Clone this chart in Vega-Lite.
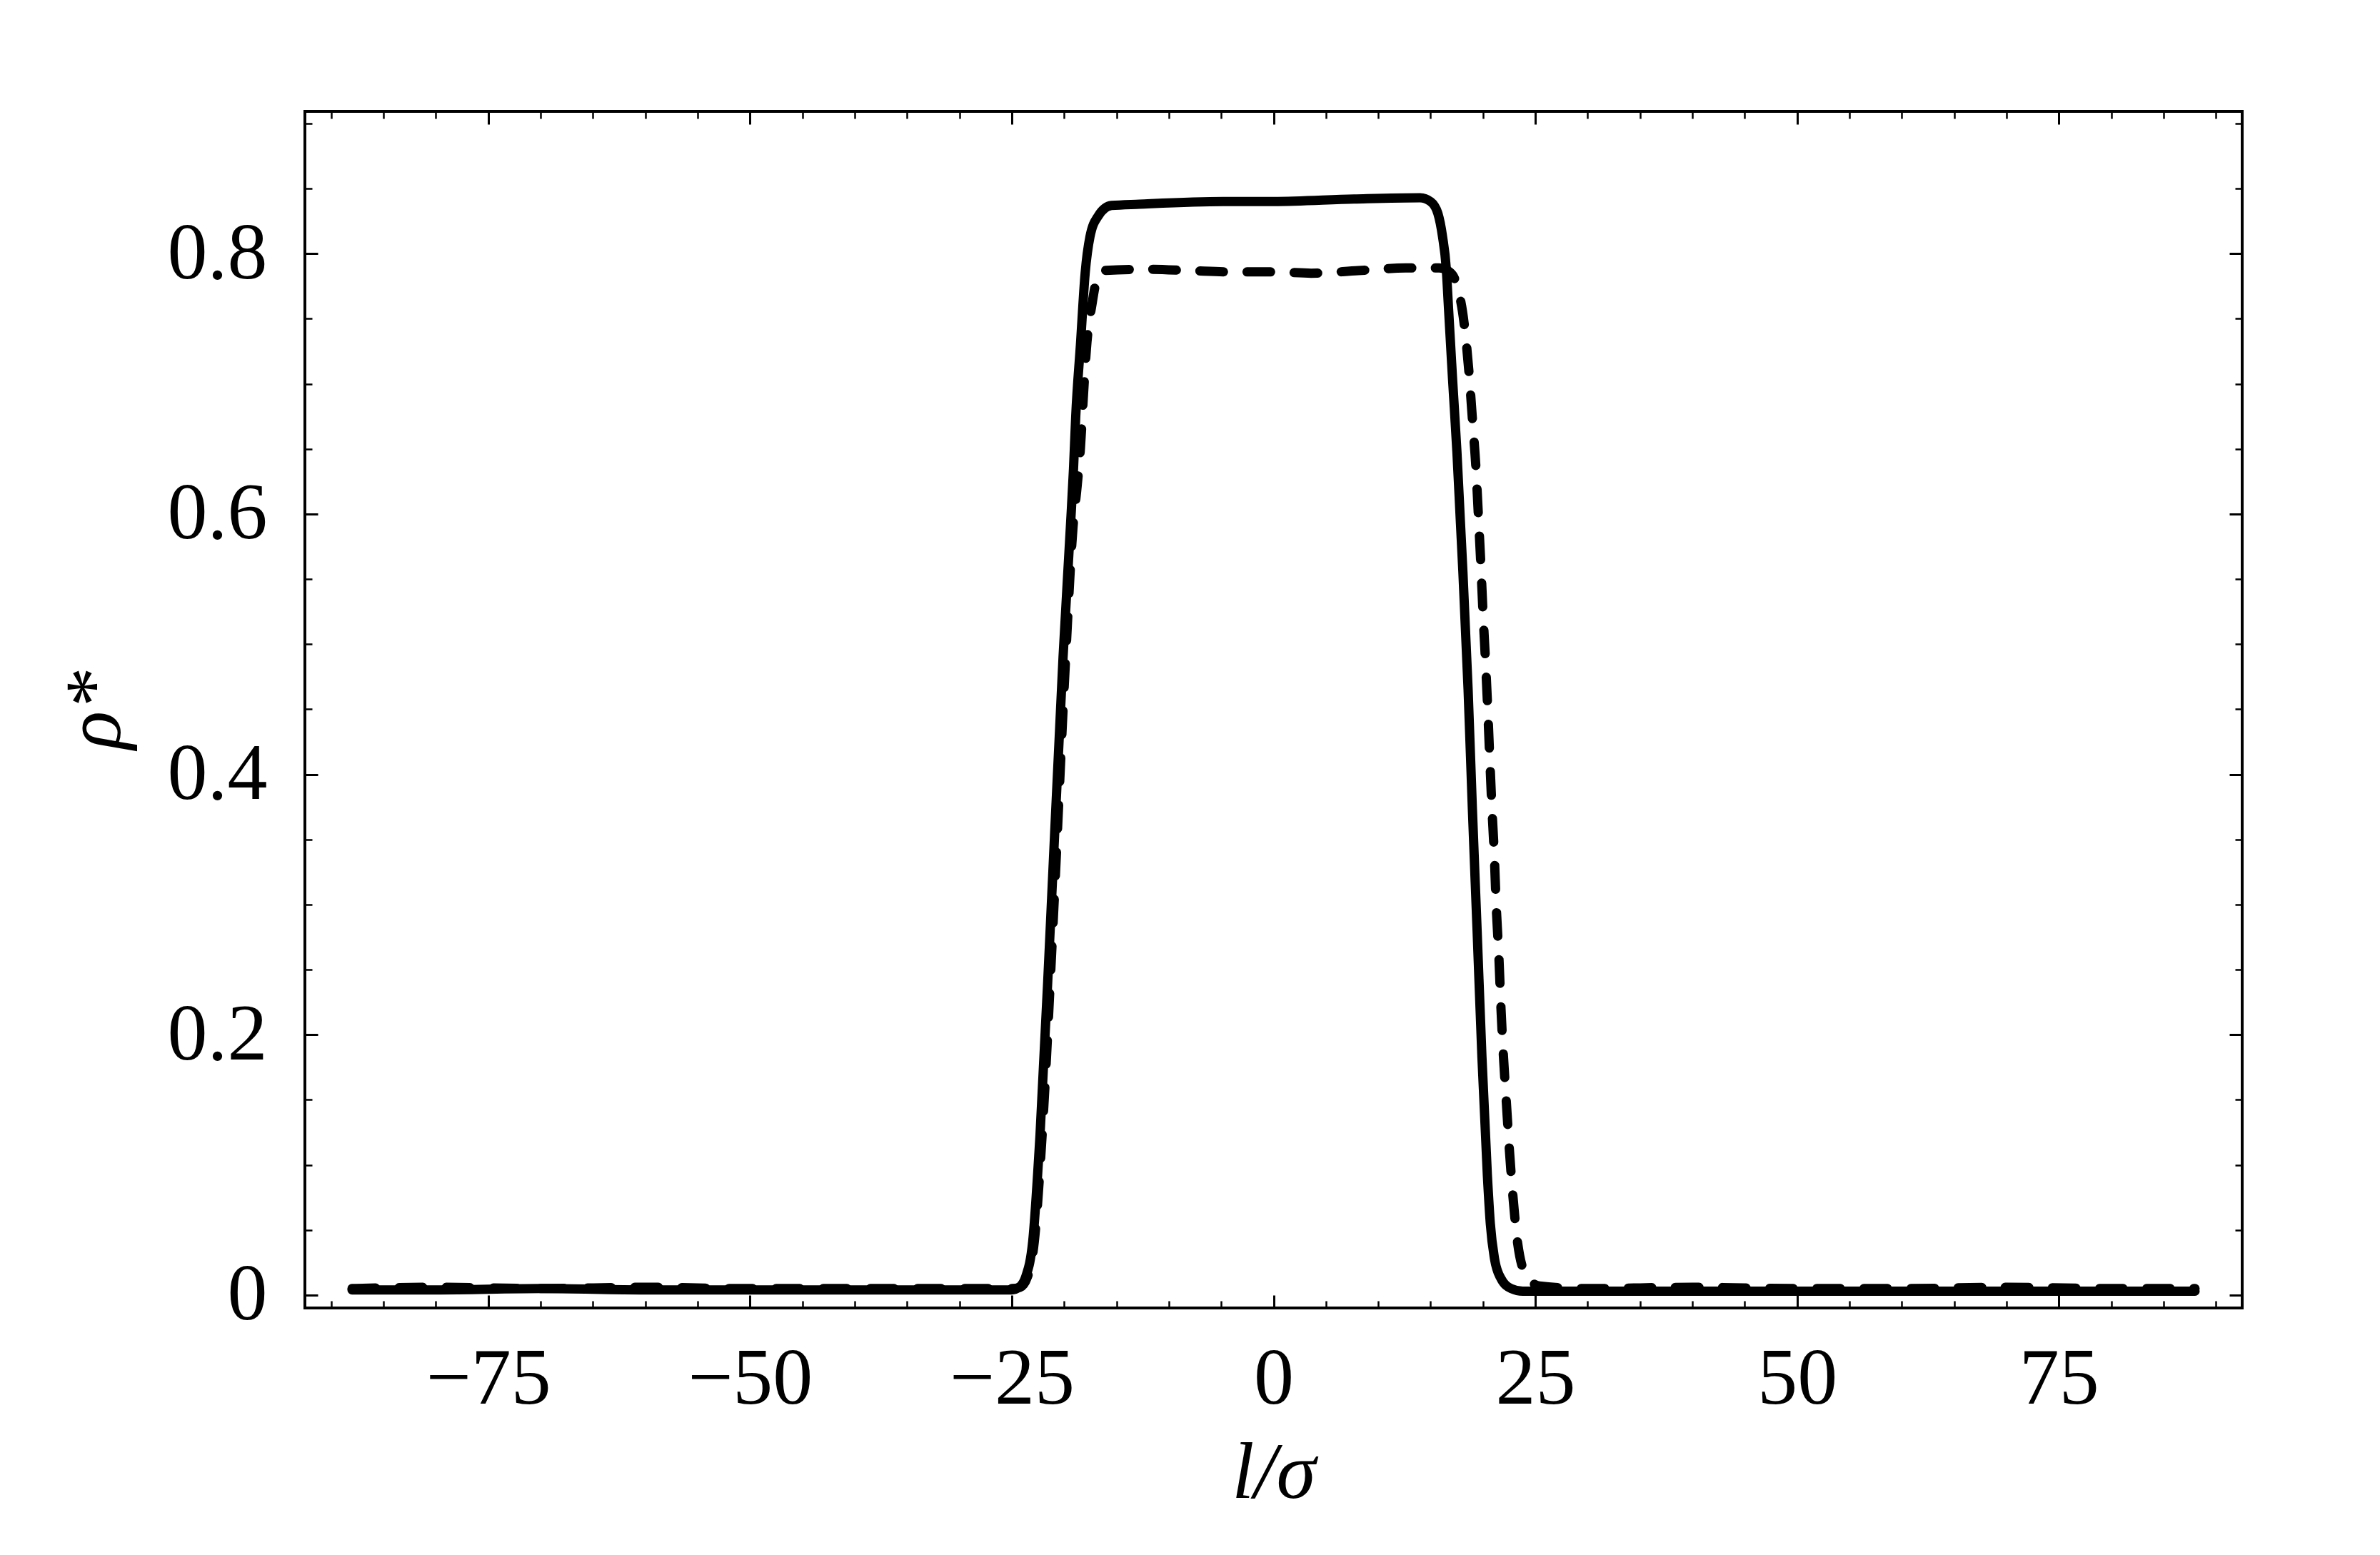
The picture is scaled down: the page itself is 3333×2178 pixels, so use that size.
{
  "$schema": "https://vega.github.io/schema/vega-lite/v6.json",
  "width": 2713,
  "height": 1676,
  "autosize": {"type": "none"},
  "padding": {"left": 427, "top": 156, "right": 193, "bottom": 346},
  "background": "white",
  "config": {
    "view": {"stroke": "black", "strokeWidth": 4},
    "axis": {
      "domain": false,
      "grid": false,
      "labelFont": "Liberation Serif",
      "titleFont": "Liberation Serif",
      "labelFontSize": 112,
      "titleFontSize": 112,
      "titleFontWeight": "normal",
      "labelColor": "black",
      "titleColor": "black",
      "tickColor": "black"
    }
  },
  "data": {
    "values": [
      {"s": "solid", "l": -88, "rho": 0.004},
      {"s": "solid", "l": -80, "rho": 0.004},
      {"s": "solid", "l": -70, "rho": 0.005},
      {"s": "solid", "l": -60, "rho": 0.004},
      {"s": "solid", "l": -50, "rho": 0.004},
      {"s": "solid", "l": -40, "rho": 0.004},
      {"s": "solid", "l": -30, "rho": 0.004},
      {"s": "solid", "l": -25, "rho": 0.004},
      {"s": "solid", "l": -24.3, "rho": 0.006},
      {"s": "solid", "l": -23.67, "rho": 0.014},
      {"s": "solid", "l": -23.0, "rho": 0.041},
      {"s": "solid", "l": -22.3, "rho": 0.123},
      {"s": "solid", "l": -21.3, "rho": 0.286},
      {"s": "solid", "l": -20.1, "rho": 0.49},
      {"s": "solid", "l": -19.4, "rho": 0.59},
      {"s": "solid", "l": -19.1, "rho": 0.635},
      {"s": "solid", "l": -18.89, "rho": 0.675},
      {"s": "solid", "l": -18.44, "rho": 0.73},
      {"s": "solid", "l": -17.99, "rho": 0.785},
      {"s": "solid", "l": -17.53, "rho": 0.813},
      {"s": "solid", "l": -16.74, "rho": 0.829},
      {"s": "solid", "l": -15.48, "rho": 0.837},
      {"s": "solid", "l": -12.8, "rho": 0.838},
      {"s": "solid", "l": -4.8, "rho": 0.84},
      {"s": "solid", "l": 0, "rho": 0.84},
      {"s": "solid", "l": 7.7, "rho": 0.842},
      {"s": "solid", "l": 14, "rho": 0.843},
      {"s": "solid", "l": 15.0, "rho": 0.84},
      {"s": "solid", "l": 15.69, "rho": 0.831},
      {"s": "solid", "l": 16.14, "rho": 0.813},
      {"s": "solid", "l": 16.49, "rho": 0.789},
      {"s": "solid", "l": 16.71, "rho": 0.758},
      {"s": "solid", "l": 17.1, "rho": 0.703},
      {"s": "solid", "l": 17.51, "rho": 0.648},
      {"s": "solid", "l": 17.85, "rho": 0.593},
      {"s": "solid", "l": 18.08, "rho": 0.556},
      {"s": "solid", "l": 18.58, "rho": 0.465},
      {"s": "solid", "l": 18.99, "rho": 0.373},
      {"s": "solid", "l": 19.44, "rho": 0.28},
      {"s": "solid", "l": 19.9, "rho": 0.183},
      {"s": "solid", "l": 20.42, "rho": 0.092},
      {"s": "solid", "l": 20.7, "rho": 0.055},
      {"s": "solid", "l": 21.1, "rho": 0.028},
      {"s": "solid", "l": 21.7, "rho": 0.013},
      {"s": "solid", "l": 22.7, "rho": 0.005},
      {"s": "solid", "l": 23.8, "rho": 0.003},
      {"s": "solid", "l": 30, "rho": 0.003},
      {"s": "solid", "l": 40, "rho": 0.003},
      {"s": "solid", "l": 50, "rho": 0.003},
      {"s": "solid", "l": 60, "rho": 0.003},
      {"s": "solid", "l": 70, "rho": 0.003},
      {"s": "solid", "l": 80, "rho": 0.003},
      {"s": "solid", "l": 88, "rho": 0.003},

      {"s": "dashed", "l": -88, "rho": 0.005},
      {"s": "dashed", "l": -80, "rho": 0.006},
      {"s": "dashed", "l": -70, "rho": 0.005},
      {"s": "dashed", "l": -60, "rho": 0.006},
      {"s": "dashed", "l": -50, "rho": 0.005},
      {"s": "dashed", "l": -40, "rho": 0.005},
      {"s": "dashed", "l": -30, "rho": 0.005},
      {"s": "dashed", "l": -25, "rho": 0.005},
      {"s": "dashed", "l": -24.2, "rho": 0.006},
      {"s": "dashed", "l": -23.5, "rho": 0.014},
      {"s": "dashed", "l": -22.85, "rho": 0.041},
      {"s": "dashed", "l": -22.1, "rho": 0.123},
      {"s": "dashed", "l": -21.05, "rho": 0.286},
      {"s": "dashed", "l": -19.85, "rho": 0.49},
      {"s": "dashed", "l": -19.15, "rho": 0.59},
      {"s": "dashed", "l": -18.75, "rho": 0.622},
      {"s": "dashed", "l": -18.44, "rho": 0.651},
      {"s": "dashed", "l": -18.17, "rho": 0.689},
      {"s": "dashed", "l": -17.87, "rho": 0.727},
      {"s": "dashed", "l": -17.3, "rho": 0.763},
      {"s": "dashed", "l": -16.9, "rho": 0.78},
      {"s": "dashed", "l": -16.4, "rho": 0.787},
      {"s": "dashed", "l": -12, "rho": 0.788},
      {"s": "dashed", "l": -8, "rho": 0.787},
      {"s": "dashed", "l": -4, "rho": 0.786},
      {"s": "dashed", "l": 0, "rho": 0.786},
      {"s": "dashed", "l": 3.6, "rho": 0.785},
      {"s": "dashed", "l": 8.1, "rho": 0.787},
      {"s": "dashed", "l": 12.6, "rho": 0.789},
      {"s": "dashed", "l": 15.8, "rho": 0.789},
      {"s": "dashed", "l": 16.8, "rho": 0.786},
      {"s": "dashed", "l": 17.5, "rho": 0.776},
      {"s": "dashed", "l": 18.19, "rho": 0.747},
      {"s": "dashed", "l": 18.65, "rho": 0.71},
      {"s": "dashed", "l": 18.99, "rho": 0.673},
      {"s": "dashed", "l": 19.33, "rho": 0.635},
      {"s": "dashed", "l": 19.56, "rho": 0.599},
      {"s": "dashed", "l": 19.78, "rho": 0.564},
      {"s": "dashed", "l": 20.01, "rho": 0.523},
      {"s": "dashed", "l": 20.24, "rho": 0.487},
      {"s": "dashed", "l": 20.46, "rho": 0.449},
      {"s": "dashed", "l": 20.65, "rho": 0.412},
      {"s": "dashed", "l": 20.85, "rho": 0.375},
      {"s": "dashed", "l": 21.08, "rho": 0.338},
      {"s": "dashed", "l": 21.26, "rho": 0.3},
      {"s": "dashed", "l": 21.54, "rho": 0.256},
      {"s": "dashed", "l": 21.72, "rho": 0.22},
      {"s": "dashed", "l": 21.95, "rho": 0.184},
      {"s": "dashed", "l": 22.24, "rho": 0.147},
      {"s": "dashed", "l": 22.51, "rho": 0.113},
      {"s": "dashed", "l": 22.86, "rho": 0.076},
      {"s": "dashed", "l": 23.31, "rho": 0.04},
      {"s": "dashed", "l": 24.2, "rho": 0.014},
      {"s": "dashed", "l": 25.4, "rho": 0.007},
      {"s": "dashed", "l": 30, "rho": 0.005},
      {"s": "dashed", "l": 40, "rho": 0.006},
      {"s": "dashed", "l": 50, "rho": 0.005},
      {"s": "dashed", "l": 60, "rho": 0.005},
      {"s": "dashed", "l": 70, "rho": 0.006},
      {"s": "dashed", "l": 80, "rho": 0.005},
      {"s": "dashed", "l": 88, "rho": 0.005}
    ]
  },
  "layer": [
    {
      "transform": [{"filter": "datum.s == 'solid'"}],
      "mark": {"type": "line", "color": "black", "strokeWidth": 13, "strokeCap": "round", "strokeJoin": "round", "interpolate": "monotone"},
      "encoding": {
        "x": {
          "field": "l", "type": "quantitative",
          "scale": {"domain": [-92.5, 92.5], "nice": false, "zero": false},
          "axis": {
            "orient": "bottom", "values": [-75, -50, -25, 0, 25, 50, 75], "format": "d",
            "tickSize": 18, "offset": -18, "tickWidth": 3, "labelPadding": 45,
            "labelFlush": false, "labelOverlap": false,
            "title": "l/σ", "titleFontStyle": "italic", "titlePadding": 22
          }
        },
        "y": {
          "field": "rho", "type": "quantitative",
          "scale": {"domain": [-0.0099, 0.9093], "nice": false, "zero": false},
          "axis": {
            "orient": "left", "values": [0, 0.2, 0.4, 0.6, 0.8],
            "labelExpr": "datum.value == 0 ? '0' : format(datum.value, '.1f')",
            "tickSize": 18, "offset": -18, "tickWidth": 3, "labelPadding": 53,
            "labelFlush": false, "labelOverlap": false,
            "title": "ρ*", "titleFontStyle": "italic", "titlePadding": 54
          }
        }
      }
    },
    {
      "transform": [{"filter": "datum.s == 'dashed'"}],
      "mark": {"type": "line", "color": "black", "strokeWidth": 13, "strokeCap": "round", "strokeJoin": "round", "strokeDash": [33, 33], "interpolate": "monotone"},
      "encoding": {
        "x": {
          "field": "l", "type": "quantitative",
          "axis": {
            "orient": "bottom",
            "values": [-90, -85, -80, -70, -65, -60, -55, -45, -40, -35, -30, -20, -15, -10, -5, 5, 10, 15, 20, 30, 35, 40, 45, 55, 60, 65, 70, 80, 85, 90],
            "tickSize": 10, "offset": -10, "tickWidth": 2.5, "labels": false, "title": null
          }
        },
        "y": {
          "field": "rho", "type": "quantitative",
          "axis": {
            "orient": "left",
            "values": [0.05, 0.1, 0.15, 0.25, 0.3, 0.35, 0.45, 0.5, 0.55, 0.65, 0.7, 0.75, 0.85, 0.9],
            "tickSize": 10, "offset": -10, "tickWidth": 2.5, "labels": false, "title": null
          }
        }
      }
    },
    {
      "transform": [{"filter": "datum.s == 'solid'"}],
      "mark": {"type": "line", "color": "black", "strokeOpacity": 0},
      "encoding": {
        "x": {
          "field": "l", "type": "quantitative",
          "axis": {
            "orient": "top", "values": [-75, -50, -25, 0, 25, 50, 75],
            "tickSize": 18, "offset": -18, "tickWidth": 3, "labels": false, "title": null
          }
        },
        "y": {
          "field": "rho", "type": "quantitative",
          "axis": {
            "orient": "right", "values": [0, 0.2, 0.4, 0.6, 0.8],
            "tickSize": 18, "offset": -18, "tickWidth": 3, "labels": false, "title": null
          }
        }
      }
    },
    {
      "transform": [{"filter": "datum.s == 'solid'"}],
      "mark": {"type": "line", "color": "black", "strokeOpacity": 0},
      "encoding": {
        "x": {
          "field": "l", "type": "quantitative",
          "axis": {
            "orient": "top",
            "values": [-90, -85, -80, -70, -65, -60, -55, -45, -40, -35, -30, -20, -15, -10, -5, 5, 10, 15, 20, 30, 35, 40, 45, 55, 60, 65, 70, 80, 85, 90],
            "tickSize": 10, "offset": -10, "tickWidth": 2.5, "labels": false, "title": null
          }
        },
        "y": {
          "field": "rho", "type": "quantitative",
          "axis": {
            "orient": "right",
            "values": [0.05, 0.1, 0.15, 0.25, 0.3, 0.35, 0.45, 0.5, 0.55, 0.65, 0.7, 0.75, 0.85, 0.9],
            "tickSize": 10, "offset": -10, "tickWidth": 2.5, "labels": false, "title": null
          }
        }
      }
    }
  ],
  "resolve": {"axis": {"x": "independent", "y": "independent"}}
}
